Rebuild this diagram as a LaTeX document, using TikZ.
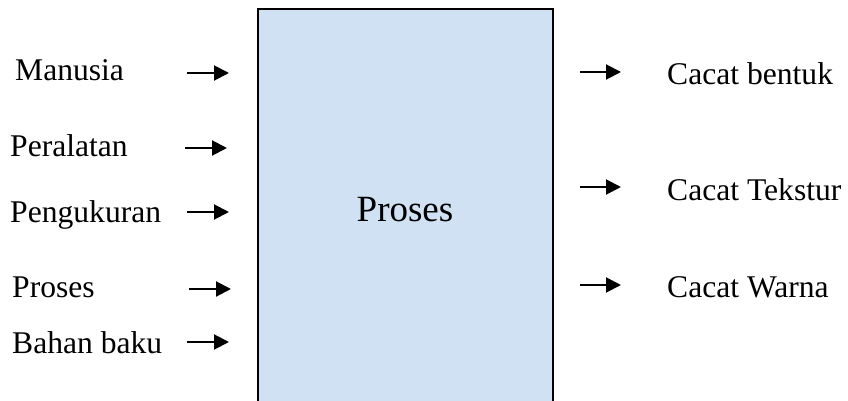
\documentclass[tikz,border=0pt]{standalone}
\usepackage{fontspec}
\setmainfont{Liberation Serif}
\usetikzlibrary{arrows.meta}
\definecolor{procfill}{HTML}{CFE1F2}
\tikzset{
  label/.style={inner sep=0pt, anchor=base west, font=\fontsize{31.6}{37}\selectfont},
  flow/.style={line width=2pt, -{Triangle[length=15pt,width=15pt]}},
  procbox/.style={draw=black, line width=2pt, fill=procfill}
}
\begin{document}
\begin{tikzpicture}[x=1pt,y=-1pt]
  \useasboundingbox (0,0) rectangle (848,401);
  \clip (0,0) rectangle (848,401);
  % process block, its lower edge runs past the page
  \draw[procbox] (258,9) rectangle (553,420);
  \node[inner sep=0pt, anchor=base, font=\fontsize{37}{44}\selectfont] (center) at (405,221) {Proses};

  % input factors
  \node[label] (manusia) at (15,81) {Manusia};
  \node[label] (peralatan) at (10,157) {Peralatan};
  \node[label] (pengukuran) at (10,222) {Pengukuran};
  \node[label] (proses) at (12,297) {Proses};
  \node[label] (bahan) at (12,353) {Bahan baku};

  \coordinate (a1s) at (187,73);  \coordinate (a1e) at (229,73);
  \coordinate (a2s) at (185,148); \coordinate (a2e) at (227,148);
  \coordinate (a3s) at (187,212); \coordinate (a3e) at (229,212);
  \coordinate (a4s) at (189,289); \coordinate (a4e) at (231,289);
  \coordinate (a5s) at (187,342); \coordinate (a5e) at (229,342);
  \draw[flow] (a1s) -- (a1e);
  \draw[flow] (a2s) -- (a2e);
  \draw[flow] (a3s) -- (a3e);
  \draw[flow] (a4s) -- (a4e);
  \draw[flow] (a5s) -- (a5e);

  % resulting defects
  \node[label] (bentuk) at (667,85) {Cacat bentuk};
  \node[label] (tekstur) at (667,200) {Cacat Tekstur};
  \node[label] (warna) at (667,297) {Cacat Warna};

  \coordinate (b1s) at (580,72);  \coordinate (b1e) at (621,72);
  \coordinate (b2s) at (580,187); \coordinate (b2e) at (621,187);
  \coordinate (b3s) at (580,285); \coordinate (b3e) at (621,285);
  \draw[flow] (b1s) -- (b1e);
  \draw[flow] (b2s) -- (b2e);
  \draw[flow] (b3s) -- (b3e);
\end{tikzpicture}
\end{document}
